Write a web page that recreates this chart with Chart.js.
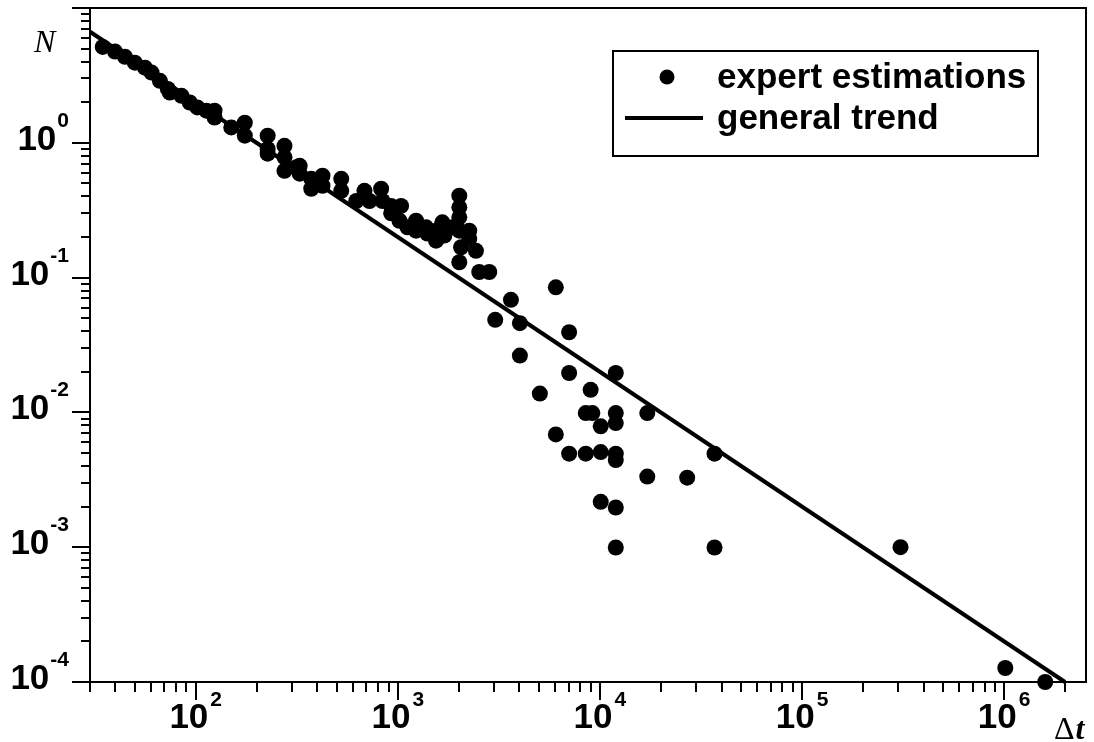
<!DOCTYPE html>
<html>
<head>
<meta charset="utf-8">
<script src="https://cdn.jsdelivr.net/npm/chart.js@4.4.1/dist/chart.umd.min.js"></script>
<style>
  html, body { margin: 0; padding: 0; background: #fff; }
  canvas { display: block; }
</style>
</head>
<body>
<canvas id="c" width="1094" height="742"></canvas>
<script>
// ---- Data ----
const expertDt = [
  34.7, 39.9, 44.7, 50.0, 56.1, 60.5, 66.5, 72.8, 74.5, 85.1, 93.5, 102, 113, 124, 124,
  150, 175, 175, 227, 227, 227, 275, 275, 275, 315, 327, 327, 373, 373, 424, 424,
  525, 525, 623, 684, 724, 827, 840, 927, 927, 1038, 1019, 1116, 1231, 1231, 1380,
  1401, 1546, 1546, 1661, 1699, 1861, 2015, 2015, 2015, 2015, 2055, 2015, 2257, 2257,
  2436, 2529, 2834, 3034, 3628, 4018, 4018, 5044, 6050, 6050, 7040, 7040, 7040,
  8510, 9173, 8510, 8997, 10090, 10090, 10090, 11980, 11980, 11980, 11980, 11980,
  11980, 11980, 17150, 17150, 27020, 36900, 36900, 307000, 1013000, 1596000
];
const expertN = [
  5.14, 4.75, 4.34, 3.93, 3.61, 3.32, 2.88, 2.51, 2.36, 2.23, 1.99, 1.83, 1.73, 1.73, 1.54,
  1.30, 1.41, 1.13, 1.13, 0.83, 0.90, 0.95, 0.78, 0.62, 0.66, 0.675, 0.59, 0.54, 0.456, 0.57, 0.48,
  0.54, 0.44, 0.37, 0.44, 0.37, 0.456, 0.37, 0.34, 0.30, 0.34, 0.264, 0.236, 0.264, 0.223, 0.236,
  0.212, 0.223, 0.188, 0.257, 0.205, 0.236, 0.405, 0.332, 0.28, 0.223, 0.168, 0.13, 0.223, 0.194,
  0.158, 0.110, 0.110, 0.0486, 0.0684, 0.0459, 0.0264, 0.0138, 0.0847, 0.00687, 0.0393, 0.0196, 0.00494,
  0.00988, 0.00988, 0.00494, 0.0147, 0.00788, 0.00508, 0.00217, 0.0196, 0.00988, 0.00833, 0.00494, 0.00443,
  0.00197, 0.000995, 0.00988, 0.00334, 0.00328, 0.00494, 0.000995, 0.001, 0.000127, 0.0001
];
const trendDt = [30, 2000000];
const trendN = [6.667, 0.0001];

const xMajorExp = [2, 3, 4, 5, 6];        // tick labels 10^2 ... 10^6
const yMajorExp = [0, -1, -2, -3, -4];    // tick labels 10^0 ... 10^-4
const legendLabels = ['expert estimations', 'general trend'];
const yTitle = 'N';
const xTitleA = 'Δ', xTitleB = 't';

const X_MIN = 30, X_MAX = 2.54e6, Y_MIN = 1e-4, Y_MAX = 10;

function logTicks(min, max) {
  const out = [];
  for (let e = Math.floor(Math.log10(min)); e <= Math.ceil(Math.log10(max)); e++) {
    for (let m = 1; m <= 9; m++) {
      const v = m * Math.pow(10, e);
      if (v >= min * 0.9999 && v <= max * 1.0001) out.push(v);
    }
  }
  return out;
}
const isMajor = v => Math.abs(Math.log10(v) - Math.round(Math.log10(v))) < 1e-9;

const bgPlugin = {
  id: 'bg',
  beforeDraw(chart) {
    const c = chart.ctx;
    c.save(); c.fillStyle = '#fff'; c.fillRect(0, 0, chart.width, chart.height); c.restore();
  }
};

const SANS = '"Liberation Sans", Arial, sans-serif';
const SERIF = '"Liberation Serif", "Times New Roman", serif';

const decor = {
  id: 'decor',
  afterDraw(chart) {
    const { ctx: c, chartArea: a, scales: { x, y } } = chart;
    c.save();
    c.strokeStyle = '#000'; c.fillStyle = '#000';
    c.lineWidth = 2;
    c.strokeRect(a.left, a.top, a.right - a.left, a.bottom - a.top);

    // y ticks (outward, left)
    logTicks(Y_MIN, Y_MAX).forEach(v => {
      const py = Math.round(y.getPixelForValue(v));
      const len = isMajor(v) ? 18 : 9;
      c.beginPath(); c.moveTo(a.left - len, py); c.lineTo(a.left, py); c.stroke();
    });
    // x ticks (outward, down)
    logTicks(X_MIN, X_MAX).forEach(v => {
      const px = Math.round(x.getPixelForValue(v));
      const len = isMajor(v) ? 18 : 10;
      c.beginPath(); c.moveTo(px, a.bottom); c.lineTo(px, a.bottom + len); c.stroke();
    });

    const baseFont = 'bold 35px ' + SANS;
    const expFont = 'bold 21px ' + SANS;

    // y labels
    yMajorExp.forEach(e => {
      const py = y.getPixelForValue(Math.pow(10, e));
      const es = String(e);
      c.font = expFont;
      const ew = c.measureText(es).width;
      const ex = 69 - ew;
      c.textAlign = 'left'; c.textBaseline = 'alphabetic';
      c.fillText(es, ex, py - 16);
      c.font = baseFont;
      c.textAlign = 'right';
      c.fillText('10', ex - 1, py + 7);
    });

    // x labels
    xMajorExp.forEach(e => {
      const px = x.getPixelForValue(Math.pow(10, e));
      const es = String(e);
      c.font = baseFont;
      const bw = c.measureText('10').width;
      c.font = expFont;
      const ew = c.measureText(es).width;
      const gap = 2;
      const start = px - (bw + gap + ew) / 2;
      c.textAlign = 'left'; c.textBaseline = 'alphabetic';
      c.font = baseFont;
      c.fillText('10', start, a.bottom + 46);
      c.font = expFont;
      c.fillText(es, start + bw + gap, a.bottom + 24);
    });

    // axis titles
    c.font = 'italic 32px ' + SERIF;
    c.textAlign = 'left';
    c.fillText(yTitle, 34, 52);
    c.font = '32px ' + SERIF;
    c.fillText(xTitleA, 1054, 739);
    const dw = c.measureText(xTitleA).width;
    c.font = 'italic bold 32px ' + SERIF;
    c.fillText(xTitleB, 1054 + dw + 1, 739);

    // legend
    c.lineWidth = 2;
    c.strokeRect(613, 51, 425, 105);
    c.beginPath(); c.arc(667, 77, 7.5, 0, Math.PI * 2); c.fill();
    c.lineWidth = 4;
    c.beginPath(); c.moveTo(625, 118); c.lineTo(703, 118); c.stroke();
    c.font = 'bold 35px ' + SANS;
    c.fillText(legendLabels[0], 717, 88);
    c.fillText(legendLabels[1], 717, 129);
    c.restore();
  }
};

new Chart(document.getElementById('c'), {
  type: 'scatter',
  data: {
    datasets: [
      {
        label: legendLabels[0],
        data: expertDt.map((v, i) => ({ x: v, y: expertN[i] })),
        pointRadius: 8, pointHoverRadius: 8,
        backgroundColor: '#000', borderColor: '#000', borderWidth: 0,
        clip: false, order: 1
      },
      {
        type: 'line',
        label: legendLabels[1],
        data: trendDt.map((v, i) => ({ x: v, y: trendN[i] })),
        borderColor: '#000', borderWidth: 4, pointRadius: 0,
        fill: false, tension: 0, order: 2, clip: false
      }
    ]
  },
  options: {
    responsive: false,
    animation: false,
    devicePixelRatio: 1,
    layout: { padding: { left: 90, top: 7, right: 6, bottom: 60 } },
    plugins: { legend: { display: false }, tooltip: { enabled: false } },
    scales: {
      x: { type: 'logarithmic', min: X_MIN, max: X_MAX, display: false },
      y: { type: 'logarithmic', min: Y_MIN, max: Y_MAX, display: false }
    }
  },
  plugins: [bgPlugin, decor]
});
</script>
</body>
</html>
